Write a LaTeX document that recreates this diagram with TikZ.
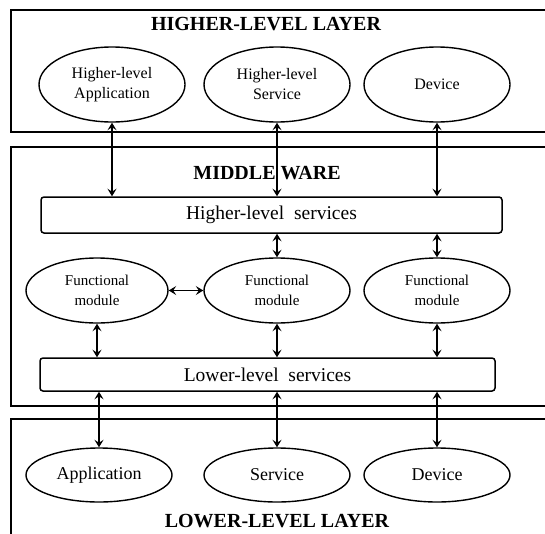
\documentclass[tikz,border=0pt]{standalone}
\usepackage{fontspec}
\setmainfont{Liberation Serif}
\usetikzlibrary{shapes.geometric,arrows.meta}
\begin{document}
\begin{tikzpicture}[x=1pt,y=-1pt,
  layer/.style={draw, line width=1.8pt},
  title/.style={font=\bfseries\fontsize{20}{24}\selectfont, inner sep=0pt},
  oval/.style={draw, ellipse, line width=1.4pt, inner sep=0pt, align=center,
    minimum width=146pt, font=\fontsize{16}{20}\selectfont},
  bar/.style={draw, rounded corners=3pt, line width=1.5pt, inner sep=0pt,
    font=\fontsize{19.5}{23}\selectfont},
  tip/.style={Stealth[length=7.5pt,width=9pt,inset=3pt]},
  link/.style={{Stealth[length=7.5pt,width=9pt,inset=3pt]}-{Stealth[length=7.5pt,width=9pt,inset=3pt]}, line width=1.7pt}]
\useasboundingbox (0,0) rectangle (545,533);
\clip (0,0) rectangle (545,533);
\fill[white] (0,0) rectangle (545,533);

% the three layers
\draw[layer] (11,10) rectangle (570,132);
\draw[layer] (11,147) rectangle (570,406);
\draw[layer] (11,419) rectangle (570,560);

\node[title] (toptitle) at (266,24) {HIGHER-LEVEL LAYER};
\node[title] (midtitle) at (267,173) {MIDDLE WARE};
\node[title] (bottitle) at (277,521.5) {LOWER-LEVEL LAYER};

% higher-level layer
\node[oval, minimum height=75pt] (t1) at (112,84.5) {Higher-level\\Application};
\node[oval, minimum height=75pt] (t2) at (277,84.5) {Higher-level\\Service};
\node[oval, minimum height=75pt] (t3) at (437,84.5) {Device};

% middleware
\node[bar, minimum width=461pt, minimum height=36pt] (hs) at (271.5,215) {Higher-level\ \ services};
\node[oval, minimum width=142pt, minimum height=65pt, font=\fontsize{15}{20}\selectfont] (m1) at (97,290.5) {Functional\\module};
\node[oval, minimum height=65pt, font=\fontsize{15}{20}\selectfont] (m2) at (277,290.5) {Functional\\module};
\node[oval, minimum height=65pt, font=\fontsize{15}{20}\selectfont] (m3) at (437,290.5) {Functional\\module};
\node[bar, minimum width=455pt, minimum height=33pt] (ls) at (267.5,374.5) {Lower-level\ \ services};

% lower-level layer
\node[oval, minimum height=54pt, font=\fontsize{18}{22}\selectfont] (b1) at (99,475) {Application};
\node[oval, minimum height=54pt, font=\fontsize{18}{22}\selectfont] (b2) at (277,475) {Service};
\node[oval, minimum height=54pt, font=\fontsize{18}{22}\selectfont] (b3) at (437,475) {Device};

% connectors
\draw[link] (t1.south) -- (t1.south |- hs.north);
\draw[link] (t2.south) -- (t2.south |- hs.north);
\draw[link] (t3.south) -- (t3.south |- hs.north);
\draw[link] (hs.south -| m2.north) -- (m2.north);
\draw[link] (hs.south -| m3.north) -- (m3.north);
\draw[link] (m1) -- (m2);
\draw[link] (m1.south) -- (m1.south |- ls.north);
\draw[link] (m2.south) -- (m2.south |- ls.north);
\draw[link] (m3.south) -- (m3.south |- ls.north);
\draw[link] (ls.south -| b1.north) -- (b1.north);
\draw[link] (ls.south -| b2.north) -- (b2.north);
\draw[link] (ls.south -| b3.north) -- (b3.north);
\end{tikzpicture}
\end{document}
